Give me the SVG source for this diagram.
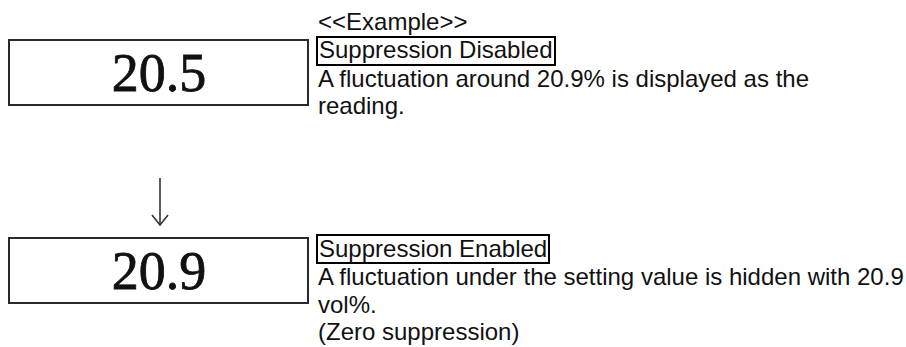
<svg xmlns="http://www.w3.org/2000/svg" width="906" height="347" viewBox="0 0 906 347">
<style>
.disp{fill:#fff;stroke:#2a2a2a;stroke-width:2}
.num{font-family:"Liberation Serif","Times New Roman",serif;font-size:54px;fill:#111;stroke:#111;stroke-width:0.8;text-anchor:middle}
.t{font-family:"Liberation Sans",Arial,sans-serif;font-size:24px;fill:#111}
.lab{fill:none;stroke:#000;stroke-width:2}
.conn{fill:none;stroke:#333;stroke-width:1.6}
</style>
<rect width="906" height="347" fill="#fff"/>
<g id="display-before">
<rect class="disp" x="9" y="40" width="299" height="65"/>
<text class="num" x="159" y="90.5">20.5</text>
</g>
<g id="display-after">
<rect class="disp" x="9" y="238" width="299" height="65"/>
<text class="num" x="159" y="288.5">20.9</text>
</g>
<g id="connectors">
<line class="conn" x1="160" y1="178" x2="160" y2="225"/>
<polyline class="conn" points="152,215 160,225 168,215"/>
</g>
<g id="note-disabled">
<text class="t" x="318" y="30">&lt;&lt;Example&gt;&gt;</text>
<rect class="lab" x="317" y="37" width="238" height="28"/>
<text class="t" x="319" y="58">Suppression Disabled</text>
<text class="t" x="318" y="86.5">A fluctuation around 20.9% is displayed as the</text>
<text class="t" x="318" y="113.5">reading.</text>
</g>
<g id="note-enabled">
<rect class="lab" x="317" y="235" width="232" height="28"/>
<text class="t" x="319" y="256.5">Suppression Enabled</text>
<text class="t" x="318" y="285">A fluctuation under the setting value is hidden with 20.9</text>
<text class="t" x="318" y="312.5">vol%.</text>
<text class="t" x="318" y="340">(Zero suppression)</text>
</g>
</svg>
